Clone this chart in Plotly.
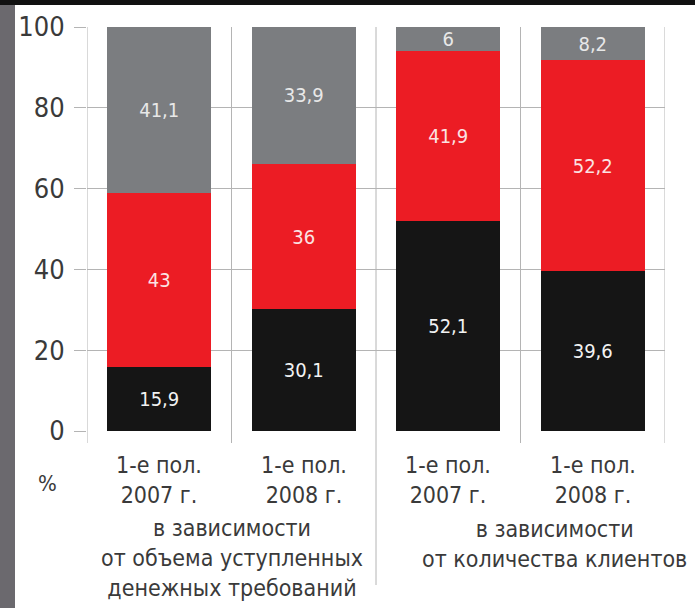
import plotly.graph_objects as go

categories = ["1-е пол.\n2007 г.", "1-е пол.\n2008 г.", "1-е пол.\n2007 г.", "1-е пол.\n2008 г."]
black_vals = [15.9, 30.1, 52.1, 39.6]
red_vals = [43, 36, 41.9, 52.2]
gray_vals = [41.1, 33.9, 6, 8.2]
group_labels = ["в зависимости\nот объема уступленных\nденежных требований",
                "в зависимости\nот количества клиентов"]
y_ticks = [0, 20, 40, 60, 80, 100]
unit_label = "%"

FONT = "DejaVu Sans Condensed, sans-serif"
TXT = "#3a3a3a"
x = list(range(len(categories)))

def fmt(v):
    s = f"{v:g}"
    return s.replace(".", ",")

fig = go.Figure()
for vals, color, tcol in [(black_vals, "#151515", "#f2f2f2"),
                          (red_vals, "#ec1c24", "#fbe3e3"),
                          (gray_vals, "#7b7d80", "#e8e8e8")]:
    fig.add_trace(go.Bar(
        x=x, y=vals, marker=dict(color=color, line=dict(width=0)),
        width=0.72, text=[fmt(v) for v in vals], textposition="inside",
        insidetextanchor="middle", constraintext="none", textangle=0,
        textfont=dict(family=FONT, size=20, color=tcol), showlegend=False,
        hoverinfo="skip"))

fig.update_layout(
    barmode="stack", width=695, height=608,
    margin=dict(l=87, r=30, t=27, b=177),
    paper_bgcolor="white", plot_bgcolor="white",
    font=dict(family=FONT, color=TXT),
    xaxis=dict(range=[-0.5, 3.5], showticklabels=False, showgrid=False,
               zeroline=False, showline=False, fixedrange=True),
    yaxis=dict(range=[0, 100], tickvals=y_ticks, showgrid=True, gridcolor="#b4b4b4",
               gridwidth=1, zeroline=False, showline=False, ticks="outside",
               ticklen=12, tickcolor="#b4b4b4", tickfont=dict(size=27, color=TXT),
               ticklabelstandoff=4, fixedrange=True),
)

# vertical frame lines and separators
line_style = dict(color="#b4b4b4", width=1)
for xv, ybot in [(-0.5, -12), (3.5, -12), (0.5, -12), (2.5, -12), (1.5, -154)]:
    fig.add_shape(type="line", xref="x", yref="paper", x0=xv, x1=xv,
                  y0=0, y1=1, line=line_style, layer="below")
    fig.add_shape(type="line", xref="x", yref="paper", ysizemode="pixel", yanchor=0,
                  x0=xv, x1=xv, y0=0, y1=ybot, line=line_style, layer="below")

# category labels
for i, cat in enumerate(categories):
    fig.add_annotation(x=i, y=0, xref="x", yref="paper", text=cat.replace("\n", "<br>"),
                       showarrow=False, yanchor="middle", yshift=-49,
                       font=dict(size=23, color=TXT, family=FONT))

# group labels
group_pos = [(0.5, 0, -127), (2.5, 34, -113)]
for (gx, xs, ys), lbl in zip(group_pos, group_labels):
    fig.add_annotation(x=gx, y=0, xref="x", yref="paper", text=lbl.replace("\n", "<br>"),
                       showarrow=False, yanchor="middle", xshift=xs, yshift=ys,
                       font=dict(size=23, color=TXT, family=FONT))

fig.add_annotation(x=0, y=0, xref="paper", yref="paper", text=unit_label, showarrow=False,
                   xanchor="center", yanchor="middle", xshift=-40, yshift=-52,
                   font=dict(size=22, color=TXT, family=FONT))

# decorative left strip and top bar
fig.add_shape(type="rect", xref="paper", yref="paper", xsizemode="pixel", xanchor=0,
              x0=-87, x1=-72, y0=-0.5, y1=1.5, fillcolor="#6b696e", line=dict(width=0),
              layer="below")
fig.add_shape(type="rect", xref="paper", yref="paper", ysizemode="pixel", yanchor=1,
              x0=-0.2, x1=1.2, y0=22, y1=40, fillcolor="#111111", line=dict(width=0),
              layer="below")

fig.write_html("out.html", config={"displayModeBar": False},
               post_script="document.body.style.margin='0px';")
